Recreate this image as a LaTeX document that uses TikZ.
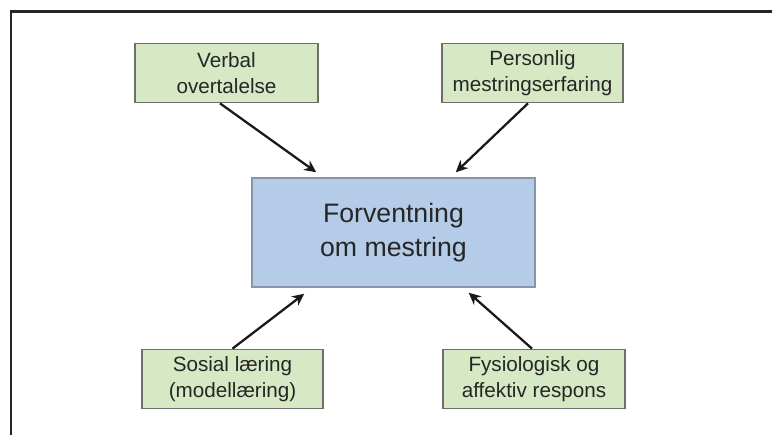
\documentclass[tikz,border=0pt]{standalone}
\usepackage{fontspec}
\setmainfont{Liberation Sans}
\usepackage{tikz}
\usetikzlibrary{arrows.meta,positioning,calc}
\definecolor{sourcegreen}{HTML}{D6E8C4}
\definecolor{goalblue}{HTML}{B4CCE7}
\definecolor{boxline}{HTML}{6E6E6E}
\definecolor{goalline}{HTML}{8794AA}
\definecolor{inktext}{HTML}{262626}

\begin{document}
\begin{tikzpicture}[x=0.75pt,y=0.75pt,
  source/.style={draw=boxline,line width=1.3pt,fill=sourcegreen,align=center,inner sep=0pt,
    text=inktext,font=\fontsize{15.5}{20}\selectfont,minimum height=44.25pt},
  goal/.style={draw=goalline,line width=1.1pt,fill=goalblue,align=center,inner sep=0pt,
    text=inktext,font=\fontsize{20}{26}\selectfont,minimum width=212.25pt,minimum height=81.75pt},
  influence/.style={line width=1.7pt,draw=black!90,-{Stealth[length=9pt,width=8.5pt]}}]
\path[use as bounding box] (0,0) rectangle (772,435);
\draw[line width=1.9pt,draw=black!85] (11,0) -- (11,423.5) -- (772,423.5);
\node[goal] (forv) at (393.5,202.5) {Forventning\\om mestring};
\node[source,minimum width=137.25pt] (verbal) at (226.5,362) {Verbal\\overtalelse};
\node[source,minimum width=135.75pt] (personlig) at (532.5,362) {Personlig\\mestringserfaring};
\node[source,minimum width=135.75pt] (sosial) at (232.5,56) {Sosial læring\\(modellæring)};
\node[source,minimum width=136.5pt] (fysio) at (534,56) {Fysiologisk og\\affektiv respons};
% arrow heads stop just short of the centre box
\coordinate (inVerbal) at ($(forv.north west)+(65,5)$);
\coordinate (inPersonlig) at ($(forv.north east)+(-80,5)$);
\coordinate (inSosial) at ($(forv.south west)+(53,-6)$);
\coordinate (inFysio) at ($(forv.south east)+(-67,-5)$);
\draw[influence] ($(verbal.south)+(-6.5,0)$) -- (inVerbal);
\draw[influence] ($(personlig.south)+(-4.5,0)$) -- (inPersonlig);
\draw[influence] (sosial.north) -- (inSosial);
\draw[influence] ($(fysio.north)+(-2,0)$) -- (inFysio);
\end{tikzpicture}
\end{document}
